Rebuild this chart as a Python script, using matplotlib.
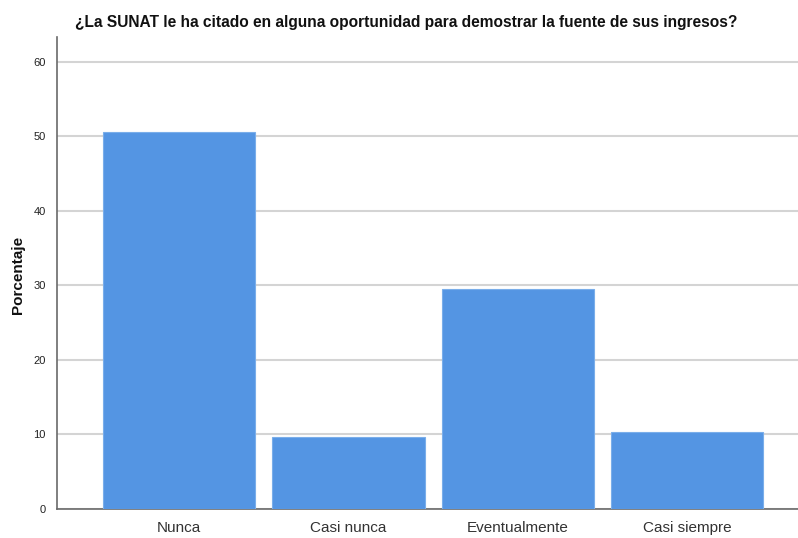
import matplotlib
matplotlib.use('Agg')
import matplotlib.pyplot as plt

# ======= data =======
categorias = ['Nunca', 'Casi nunca', 'Eventualmente', 'Casi siempre']
porcentaje = [50.5, 9.6, 29.5, 10.3]
yticks = [0, 10, 20, 30, 40, 50, 60]

plt.rcParams['font.family'] = ['Liberation Sans', 'DejaVu Sans']

fig = plt.figure(figsize=(7.98, 5.38), dpi=100)
ax = fig.add_axes([57/798, 1 - 509/538, 1 - 57/798, (509 - 37)/538])

# ======= bars =======
ax.bar(range(len(categorias)), porcentaje, width=0.9, color='#5495e3',
       edgecolor='#7aaeea', linewidth=0.8, zorder=3)

ax.set_xlim(-0.722, 3.654)
ax.set_ylim(0, 63.3)
ax.set_yticks(yticks)
ax.set_yticklabels([str(t) for t in yticks], fontsize=8, color='#222222')
ax.set_xticks(range(len(categorias)))
ax.set_xticklabels(categorias, fontsize=11, color='#333333', va='baseline')
ax.tick_params(axis='both', length=0)
ax.tick_params(axis='y', pad=8)
ax.tick_params(axis='x', pad=16.5)

# grid
ax.yaxis.grid(True, color='#d4d4d4', linewidth=1.5, zorder=0)
ax.set_axisbelow(True)

for s in ['top', 'right']:
    ax.spines[s].set_visible(False)
ax.spines['left'].set_color('#6a6a6a')
ax.spines['bottom'].set_color('#6a6a6a')
ax.spines['left'].set_linewidth(1.2)
ax.spines['bottom'].set_linewidth(1.2)

# ===== labels =====
fig.text(18/798, 1 - 275/538, 'Porcentaje', rotation=90, ha='center', va='center',
         fontsize=11, fontweight='bold', color='#111111')

fig.text(406/798, 1 - 22/538,
         '¿La SUNAT le ha citado en alguna oportunidad para demostrar la fuente de sus ingresos?',
         ha='center', va='center', fontsize=11.2, fontweight='bold', color='#111111')

fig.savefig('out.png', dpi=100)
